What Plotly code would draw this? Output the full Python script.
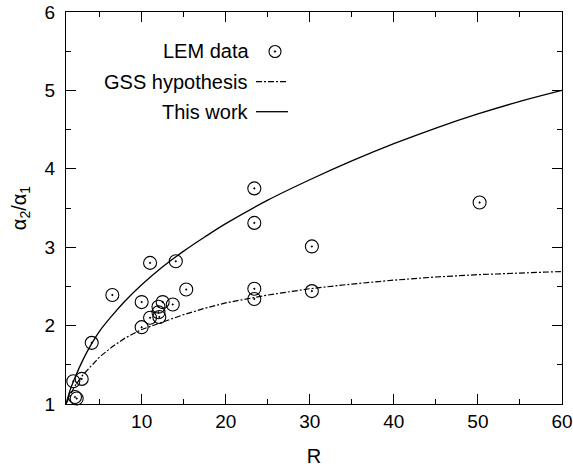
import plotly.graph_objects as go

# LEM data (R, alpha2/alpha1)
lem_r = [1.87, 2.87, 2.07, 2.27, 4.06, 6.51, 10.0, 10.0, 11.0, 11.0, 12.0, 12.0, 12.1,
         12.5, 13.7, 14.06, 15.3, 23.4, 23.4, 23.4, 23.4, 30.25, 30.25, 50.2]
lem_v = [1.29, 1.32, 1.09, 1.07, 1.78, 2.39, 2.30, 1.98, 2.80, 2.10, 2.24, 2.17, 2.11,
         2.30, 2.27, 2.82, 2.46, 3.75, 3.31, 2.47, 2.34, 3.01, 2.44, 3.57]

# Curves
curve_r = [1, 1.5, 2, 3, 4, 5, 6.5, 8, 10, 12.5, 15, 17.5, 20, 25, 30, 35, 40, 45, 50, 55, 60]
this_work_v = [1.0, 1.18, 1.32, 1.56, 1.76, 1.93, 2.13, 2.31, 2.52, 2.75, 2.95, 3.13, 3.30,
               3.60, 3.86, 4.10, 4.32, 4.52, 4.70, 4.86, 5.0]
gss_v = [1.0, 1.12, 1.22, 1.37, 1.49, 1.60, 1.73, 1.84, 1.95, 2.05, 2.14, 2.22, 2.29,
         2.39, 2.47, 2.53, 2.58, 2.62, 2.65, 2.67, 2.69]

x_ticks = [10, 20, 30, 40, 50, 60]
y_ticks = [1, 2, 3, 4, 5, 6]
legend_labels = ["LEM data", "GSS hypothesis", "This work"]

FONT = "Liberation Sans, Arial, sans-serif"

fig = go.Figure()
fig.add_trace(go.Scatter(x=curve_r, y=gss_v, mode="lines",
                         line=dict(color="black", width=1.2, dash="6px,2px,2px,2px"),
                         showlegend=False))
fig.add_trace(go.Scatter(x=curve_r, y=this_work_v, mode="lines", line_shape="spline",
                         line=dict(color="black", width=1.3), showlegend=False))
fig.add_trace(go.Scatter(x=lem_r, y=lem_v, mode="markers", cliponaxis=False,
                         marker=dict(symbol="circle-open-dot", size=13, color="black",
                                     line=dict(color="black", width=1.1)),
                         showlegend=False))

L, R, T, B = 66, 11, 12, 66
W, H = 573, 470
pw, ph = W - L - R, H - T - B


def px(xp):
    return (xp - L) / pw


def py(yp):
    return (H - B - yp) / ph


ann_rows = [(250.5, 51), (249, 81.7), (250.5, 111.7)]
for lab, (xr, yc) in zip(legend_labels, ann_rows):
    fig.add_annotation(x=px(xr), y=py(yc), xref="paper", yref="paper", text=lab,
                       showarrow=False, xanchor="right", yanchor="middle",
                       font=dict(family=FONT, size=20, color="black"))

shapes = [
    dict(type="circle", xref="paper", yref="paper", xsizemode="pixel", ysizemode="pixel",
         xanchor=px(275), yanchor=py(51.5), x0=-6, x1=6, y0=-6, y1=6,
         line=dict(color="black", width=1.1)),
    dict(type="circle", xref="paper", yref="paper", xsizemode="pixel", ysizemode="pixel",
         xanchor=px(275), yanchor=py(51.5), x0=-0.8, x1=0.8, y0=-0.8, y1=0.8,
         line=dict(color="black", width=0.8), fillcolor="black"),
    dict(type="line", xref="paper", yref="paper", x0=px(256), x1=px(288), y0=py(81.7), y1=py(81.7),
         line=dict(color="black", width=1.2, dash="6px,2px,2px,2px")),
    dict(type="line", xref="paper", yref="paper", x0=px(256), x1=px(288), y0=py(111.7), y1=py(111.7),
         line=dict(color="black", width=1.3)),
]

fig.update_layout(
    width=W, height=H, margin=dict(l=L, r=R, t=T, b=B, autoexpand=False),
    paper_bgcolor="white", plot_bgcolor="white",
    font=dict(family=FONT, size=19, color="black"),
    shapes=shapes,
    xaxis=dict(range=[1, 60], tickvals=x_ticks, ticktext=[str(v) for v in x_ticks],
               ticks="inside", ticklen=10, tickwidth=1, tickcolor="black",
               showline=True, linecolor="black", linewidth=1, mirror="ticks",
               showgrid=False, zeroline=False, automargin=False, ticklabeloverflow="allow",
               minor=dict(tickvals=[5, 15, 25, 35, 45, 55], ticks="inside", ticklen=5,
                          tickcolor="black", showgrid=False),
               tickfont=dict(size=19), ticklabelstandoff=0,
               title=dict(text="R", font=dict(size=20), standoff=18)),
    yaxis=dict(range=[1, 6], tickvals=y_ticks, ticktext=[str(v) for v in y_ticks],
               ticks="inside", ticklen=10, tickwidth=1, tickcolor="black",
               showline=True, linecolor="black", linewidth=1, mirror="ticks",
               showgrid=False, zeroline=False, automargin=False, ticklabeloverflow="allow",
               minor=dict(tickvals=[1.5, 2.5, 3.5, 4.5, 5.5], ticks="inside", ticklen=5,
                          tickcolor="black", showgrid=False),
               tickfont=dict(size=19), ticklabelstandoff=6,
               title=dict(text="α<sub>2</sub>/α<sub>1</sub>", font=dict(size=20), standoff=12)),
)

fig.write_html("out.html", config={"displayModeBar": False},
               post_script="document.body.style.margin='0';document.body.style.overflow='hidden';")
